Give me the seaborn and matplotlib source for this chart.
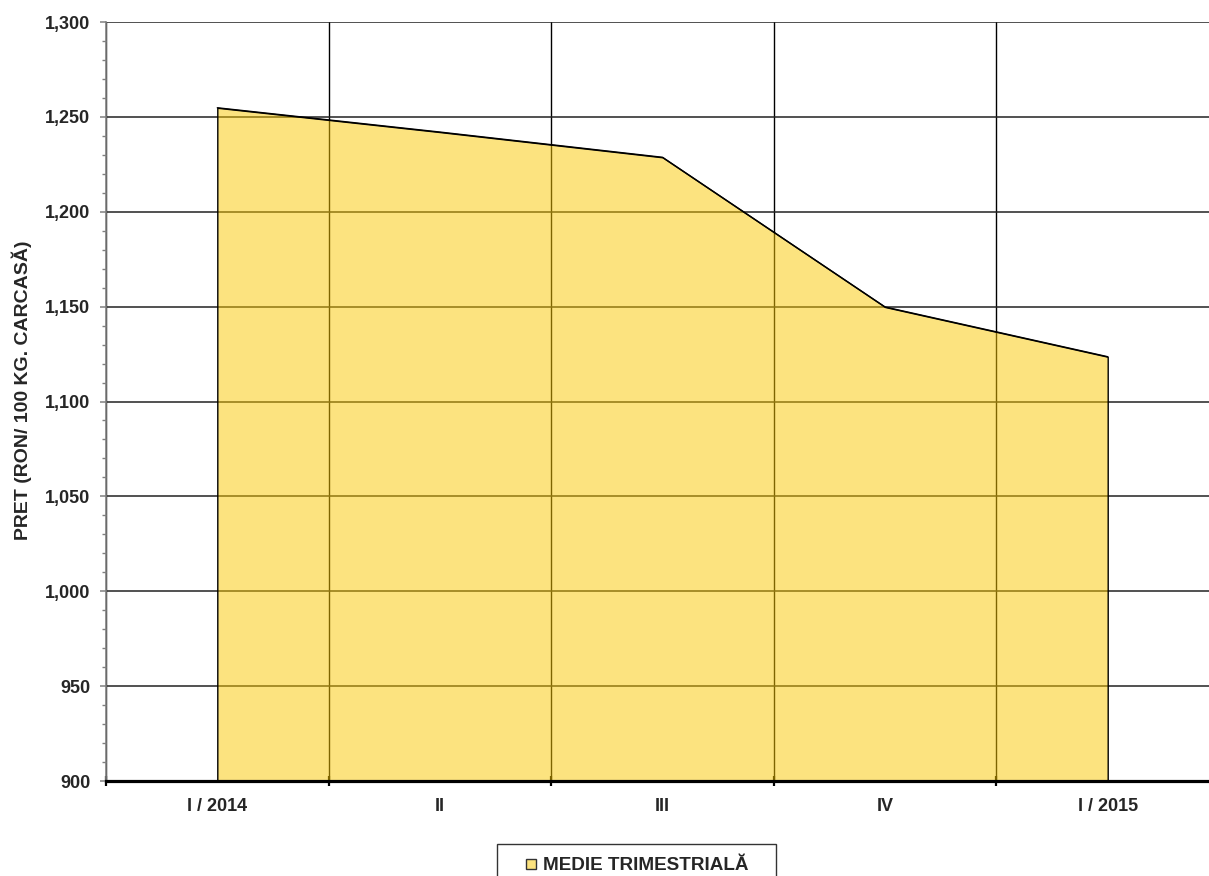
import numpy as np
import pandas as pd
import seaborn as sns
from matplotlib import pyplot as plt
from matplotlib.lines import Line2D
from matplotlib.ticker import FuncFormatter, MultipleLocator, FixedLocator
from matplotlib.colors import to_rgba

# data
quarters = ["I / 2014", "II", "III", "IV", "I / 2015"]
price = [1254.8, 1242.0, 1228.7, 1149.8, 1123.6]
y_min, y_max = 900, 1300
series_name = "MEDIE TRIMESTRIALĂ"
y_title = "PRET (RON/ 100 KG. CARCASĂ)"

df = pd.DataFrame({"pos": np.arange(len(quarters)), "price": price})

sns.set_style("white")
plt.rcParams['font.family'] = ['Liberation Sans', 'DejaVu Sans']
plt.rcParams['font.weight'] = 'bold'

fig = plt.figure(figsize=(12.09, 8.76), dpi=100)
ax = fig.add_axes([106 / 1209, 1 - 781 / 876, 1113 / 1209, 759 / 876])

fill_col = to_rgba('#FBC900', 0.5)
ax.fill_between(df["pos"], df["price"], y_min, facecolor=fill_col,
                edgecolor='black', linewidth=1.0, zorder=1)
sns.lineplot(data=df, x="pos", y="price", color='black', linewidth=1.0, ax=ax, zorder=2)

ax.set_xlim(-0.5, len(quarters) - 0.5)
ax.set_ylim(y_min, y_max)

# y axis
ax.yaxis.set_major_locator(MultipleLocator(50))
ax.yaxis.set_minor_locator(MultipleLocator(10))
ax.yaxis.set_major_formatter(FuncFormatter(lambda v, p: f"{int(v):,}"))
ax.tick_params(axis='y', which='major', direction='out', length=4.3, width=1.1,
               color='#808080', labelsize=13, pad=7, left=True)
ax.tick_params(axis='y', which='minor', direction='out', length=2.9, width=1.0,
               color='#808080', left=True)
for lab in ax.get_yticklabels():
    lab.set_fontweight('bold')

# x axis: ticks at category boundaries, labels at centers
ax.xaxis.set_major_locator(FixedLocator(np.arange(len(quarters) + 1) - 0.5))
ax.xaxis.set_minor_locator(FixedLocator(np.arange(len(quarters))))
ax.set_xticklabels([], minor=False)
ax.set_xticklabels(quarters, minor=True, fontweight='bold')
ax.tick_params(axis='x', which='major', direction='inout', length=7, width=1.6,
               color='black', bottom=True)
ax.tick_params(axis='x', which='minor', length=0, labelsize=13, pad=12.5, bottom=True)

ax.set_axisbelow(True)
ax.grid(True, axis='y', which='major', color='#222222', linewidth=1.1)
ax.grid(True, axis='x', which='major', color='black', linewidth=1.0)

for s in ['top', 'right']:
    ax.spines[s].set_visible(False)
ax.spines['left'].set_color('#808080')
ax.spines['left'].set_linewidth(1.2)
ax.spines['bottom'].set_color('black')
ax.spines['bottom'].set_linewidth(2.3)
ax.spines['bottom'].set_zorder(3)

ax.set_xlabel("")
ax.set_ylabel(y_title, fontsize=14, fontweight='bold')
ax.yaxis.set_label_coords(-0.0665, 0.5145)

handle = Line2D([], [], marker='s', linestyle='none', markersize=6.5,
                markerfacecolor=fill_col, markeredgecolor='#333333', markeredgewidth=1.0)
leg = fig.legend([handle], [series_name], loc='upper left', mode='expand',
                 bbox_to_anchor=(497 / 1209, 0, 279 / 1209, 1 - 844 / 876),
                 borderaxespad=0, frameon=True, fancybox=False, shadow=False,
                 edgecolor='black', handlelength=2.2, handletextpad=-0.48,
                 borderpad=0.7, prop={'size': 13.6, 'weight': 'bold'})
leg.get_frame().set_linewidth(1.0)

fig.savefig("out.png", dpi=100)
